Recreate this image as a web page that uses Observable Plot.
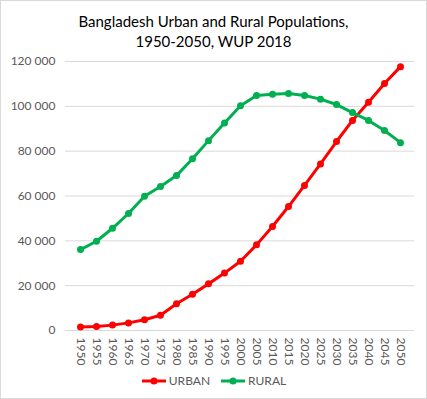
<!DOCTYPE html>
<html>
<head>
<meta charset="utf-8">
<script src="https://cdn.jsdelivr.net/npm/d3@7"></script>
<script src="https://cdn.jsdelivr.net/npm/@observablehq/plot@0.6"></script>
<style>
  body { margin: 0; background: #fff; }
  #frame { width: 427px; height: 399px; box-sizing: border-box; border: 1px solid #d9d9d9; background: #fff; font-family: Lato, "Open Sans", sans-serif; position: relative; overflow: hidden; }
  #title { text-align: center; font-size: 15px; line-height: 20px; color: #000; padding-top: 10px; height: 39px; }
  #legend { position: absolute; top: 372px; left: 0; width: 425px; display: flex; justify-content: center; gap: 10px; font-size: 12px; color: #595959; align-items: center; }
  #legend span { display: inline-flex; align-items: center; gap: 2px; }
</style>
</head>
<body>
<div id="frame">
  <div id="title">Bangladesh Urban and Rural Populations,<br>1950-2050, WUP 2018</div>
  <div id="chart"></div>
  <div id="legend"></div>
</div>
<script>
const years = [1950,1955,1960,1965,1970,1975,1980,1985,1990,1995,2000,2005,2010,2015,2020,2025,2030,2035,2040,2045,2050];
const urban = [1600,1800,2400,3400,4800,6800,11900,16200,20800,25600,30900,38200,46400,55300,64700,74300,84300,93700,101800,110200,117700];
const rural = [36100,39800,45600,52200,59900,64200,69100,76600,84700,92600,100300,104800,105400,105700,104800,103200,100800,97200,93700,89200,83800];
const seriesNames = ["URBAN", "RURAL"];
const seriesColors = ["#ff0000", "#00b050"];
const yTicks = [0,20000,40000,60000,80000,100000,120000];

const data = [];
years.forEach((y, i) => {
  data.push({year: String(y), value: urban[i], series: seriesNames[0]});
  data.push({year: String(y), value: rural[i], series: seriesNames[1]});
});

const fmt = d => d3.format(",")(d).replace(/,/g, "\u00a0");

const chart = Plot.plot({
  width: 425,
  height: 318,
  marginLeft: 64,
  marginRight: 12,
  marginTop: 11,
  marginBottom: 38,
  style: {fontFamily: "Lato, 'Open Sans', sans-serif", fontSize: "12px", color: "#595959", background: "transparent"},
  x: {type: "point", domain: years.map(String), padding: 0.5, label: null},
  y: {domain: [0, 120000], label: null},
  color: {domain: seriesNames, range: seriesColors},
  marks: [
    Plot.ruleY(yTicks, {stroke: "#d9d9d9", strokeWidth: 1}),
    Plot.axisY(yTicks, {tickSize: 0, tickPadding: 10, tickFormat: fmt, label: null, fontSize: 12}),
    Plot.axisX({tickSize: 0, tickPadding: 7, tickRotate: 90, label: null, fontSize: 12}),
    Plot.line(data, {x: "year", y: "value", z: "series", stroke: "series", strokeWidth: 3, curve: "linear"}),
    Plot.dot(data, {x: "year", y: "value", fill: "series", r: 3.5})
  ]
});
document.getElementById("chart").appendChild(chart);

const legend = document.getElementById("legend");
seriesNames.forEach((name, i) => {
  const s = document.createElement("span");
  s.innerHTML = `<svg width="26" height="10"><line x1="1" y1="5" x2="25" y2="5" stroke="${seriesColors[i]}" stroke-width="3"/><circle cx="13" cy="5" r="3.5" fill="${seriesColors[i]}"/></svg>${name}`;
  legend.appendChild(s);
});
</script>
</body>
</html>
